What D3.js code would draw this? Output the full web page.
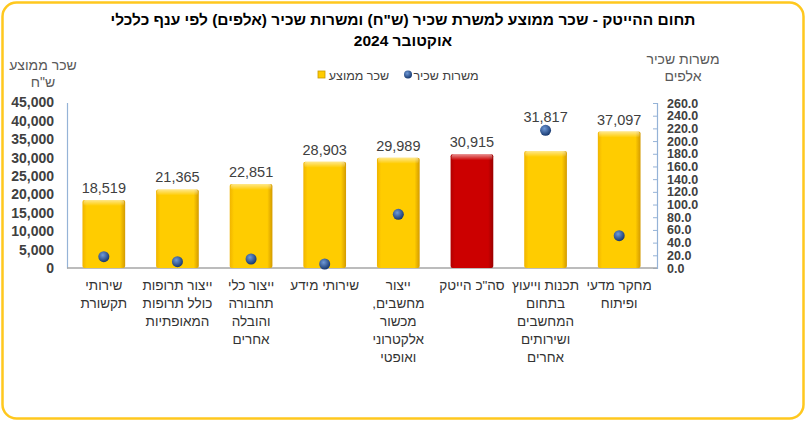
<html>
<meta charset='utf-8'>
<head>
    <script src="https://d3js.org/d3.v7.min.js"></script>
    <style>
      body { margin: 0; background: #fff; }
      text { font-family: "Liberation Sans", Arial, sans-serif; }
    </style>
</head>
<body>
<div id='viz'></div>
<script>
    // branch names, left to right
    let categories = [
      ['שירותי', 'תקשורת'],
      ['ייצור תרופות', 'כולל תרופות', 'המאופתיות'],
      ['ייצור כלי', 'תחבורה', 'והובלה', 'אחרים'],
      ['שירותי מידע'],
      ['ייצור', 'מחשבים,', 'מכשור', 'אלקטרוני', 'ואופטי'],
      ['סה"כ הייטק'],
      ['תכנות וייעוץ', 'בתחום', 'המחשבים', 'ושירותים', 'אחרים'],
      ['מחקר מדעי', 'ופיתוח']
    ];
    // average wage per employee post (NIS)
    let salary = [18519, 21365, 22851, 28903, 29989, 30915, 31817, 37097];
    // employee posts (thousands) - total is off scale, not drawn
    let posts = [17.8, 9.9, 14.2, 6.3, 84.6, null, 217, 51];
    let totalIndex = 5;

    let leftTicks = d3.range(0, 45001, 5000);
    let rightTicks = d3.range(0, 261, 20);

    let W = 806, H = 421;
    let svg = d3.select('#viz').append('svg')
                .attr('width', W)
                .attr('height', H);

    let defs = svg.append('defs');
    function barGrad(id, edge, mid, dark) {
      let g = defs.append('linearGradient').attr('id', id)
                  .attr('x1', '0%').attr('x2', '100%').attr('y1', '0%').attr('y2', '0%');
      g.append('stop').attr('offset', '0%').attr('stop-color', edge);
      g.append('stop').attr('offset', '10%').attr('stop-color', mid);
      g.append('stop').attr('offset', '88%').attr('stop-color', mid);
      g.append('stop').attr('offset', '100%').attr('stop-color', dark);
    }
    barGrad('yellowBar', '#F0B400', '#FFCC00', '#D39A00');
    barGrad('redBar', '#B00000', '#CC0000', '#990000');

    let topGrad = defs.append('linearGradient').attr('id', 'topShine')
                      .attr('x1', '0%').attr('x2', '0%').attr('y1', '0%').attr('y2', '100%');
    topGrad.append('stop').attr('offset', '0%').attr('stop-color', '#fff').attr('stop-opacity', 0.55);
    topGrad.append('stop').attr('offset', '100%').attr('stop-color', '#fff').attr('stop-opacity', 0);

    let dotGrad = defs.append('radialGradient').attr('id', 'dotGrad')
                      .attr('cx', '40%').attr('cy', '35%').attr('r', '65%');
    dotGrad.append('stop').attr('offset', '0%').attr('stop-color', '#6F9AD8');
    dotGrad.append('stop').attr('offset', '100%').attr('stop-color', '#17386F');

    // frame
    svg.append('rect')
       .attr('x', 2.5).attr('y', 2.5)
       .attr('width', W - 5).attr('height', H - 5)
       .attr('rx', 14)
       .attr('fill', '#fff')
       .attr('stroke', '#FFC81E')
       .attr('stroke-width', 2.5);

    // title
    let title = svg.append('text')
       .attr('x', 403).attr('text-anchor', 'middle')
       .attr('direction', 'rtl')
       .style('font-size', '15.5px').style('font-weight', 'bold').attr('fill', '#000');
    title.append('tspan').attr('x', 403).attr('y', 25)
         .text('תחום ההייטק -  שכר ממוצע למשרת שכיר (ש"ח) ומשרות שכיר (אלפים) לפי ענף כלכלי');
    title.append('tspan').attr('x', 403).attr('y', 46).text('אוקטובר 2024');

    let x = d3.scaleBand()
              .domain(d3.range(categories.length))
              .range([67, 656])
              .paddingInner(0.42)
              .paddingOuter(0.21);
    let yL = d3.scaleLinear().domain([0, 45000]).range([268, 102.5]);
    let yR = d3.scaleLinear().domain([0, 260]).range([268, 103]);

    // axis titles
    let axTitle = (cx, y1, lines) => {
      lines.forEach((t, i) => {
        svg.append('text').attr('x', cx).attr('y', y1 + i * 17)
           .attr('text-anchor', 'middle').attr('direction', 'rtl')
           .style('font-size', '14px').attr('fill', '#595959').text(t);
      });
    };
    axTitle(43, 70, ['שכר ממוצע', 'ש"ח']);
    axTitle(683, 64, ['משרות שכיר', 'אלפים']);

    // legend
    let lg = svg.append('g').style('font-size', '12.5px');
    lg.append('rect').attr('x', 318).attr('y', 71).attr('width', 7).attr('height', 7)
      .attr('fill', '#FFCC00').attr('stroke', '#C99A00').attr('stroke-width', 0.8);
    lg.append('text').attr('x', 359).attr('y', 79.5).attr('text-anchor', 'middle')
      .attr('direction', 'rtl').attr('fill', '#404040').text('שכר ממוצע');
    lg.append('circle').attr('cx', 408).attr('cy', 74.5).attr('r', 4).attr('fill', 'url(#dotGrad)');
    lg.append('text').attr('x', 446).attr('y', 79.5).attr('text-anchor', 'middle')
      .attr('direction', 'rtl').attr('fill', '#404040').text('משרות שכיר');

    // left axis
    let gL = svg.append('g').attr('transform', 'translate(67,0)')
                .call(d3.axisLeft(yL).tickValues(leftTicks).tickSize(0).tickPadding(13)
                        .tickFormat(d3.format(',')));
    gL.select('.domain').attr('stroke', '#95B3D7').attr('stroke-width', 1.2);
    gL.selectAll('text').style('font-size', '14px').style('font-weight', 'bold')
      .attr('fill', '#404040').style('font-family', '"Liberation Sans", Arial, sans-serif');

    // right axis (labels are tightly packed, as in the original)
    let gR = svg.append('g').attr('transform', 'translate(657,0)')
                .call(d3.axisRight(yR).tickValues(rightTicks).tickSize(-4).tickPadding(10)
                        .tickFormat(d3.format('.1f')));
    gR.select('.domain').attr('stroke', '#95B3D7').attr('stroke-width', 1.2);
    gR.selectAll('.tick line').attr('stroke', '#95B3D7');
    gR.selectAll('text').style('font-size', '12.5px').style('font-weight', 'bold')
      .attr('fill', '#404040').style('font-family', '"Liberation Sans", Arial, sans-serif');

    // baseline
    svg.append('line').attr('x1', 67).attr('x2', 657)
       .attr('y1', yL(0)).attr('y2', yL(0))
       .attr('stroke', '#A6A6A6').attr('stroke-width', 1.5);

    // bars
    let bars = svg.append('g');
    salary.forEach((v, i) => {
      let bx = x(i), bw = x.bandwidth(), by = yL(v);
      bars.append('rect')
          .attr('x', bx).attr('y', by)
          .attr('width', bw).attr('height', yL(0) - by)
          .attr('rx', 2)
          .attr('fill', i === totalIndex ? 'url(#redBar)' : 'url(#yellowBar)');
      bars.append('rect')
          .attr('x', bx + 1).attr('y', by)
          .attr('width', bw - 2).attr('height', 6)
          .attr('rx', 2)
          .attr('fill', 'url(#topShine)');
    });

    // dots
    posts.forEach((v, i) => {
      if (v === null) return;
      svg.append('circle')
         .attr('cx', x(i) + x.bandwidth() / 2)
         .attr('cy', yR(v))
         .attr('r', 5.5)
         .attr('fill', 'url(#dotGrad)');
    });

    // value labels (pushed above the dot when it sits higher than the bar)
    salary.forEach((v, i) => {
      let top = yL(v);
      if (posts[i] !== null) top = Math.min(top, yR(posts[i]) - 1);
      svg.append('text')
         .attr('x', x(i) + x.bandwidth() / 2)
         .attr('y', top - 7)
         .attr('text-anchor', 'middle')
         .style('font-size', '14.5px')
         .attr('fill', '#404040')
         .text(d3.format(',')(v));
    });

    // category labels
    categories.forEach((lines, i) => {
      lines.forEach((t, j) => {
        svg.append('text')
           .attr('x', x(i) + x.bandwidth() / 2)
           .attr('y', 290 + j * 18)
           .attr('text-anchor', 'middle')
           .attr('direction', 'rtl')
           .style('font-size', '13.5px')
           .attr('fill', '#333')
           .text(t);
      });
    });
</script>
</body>
</html>
